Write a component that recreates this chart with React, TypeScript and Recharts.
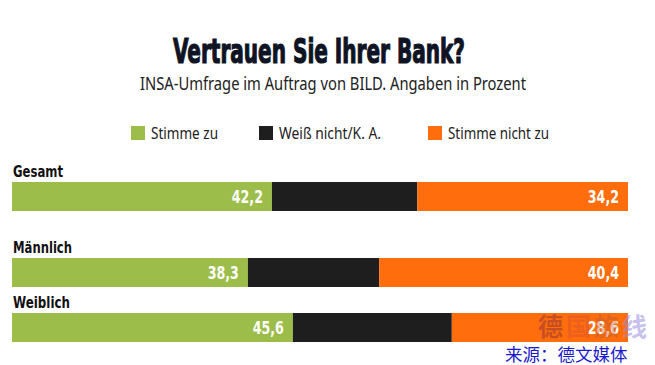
import React from 'react';
import { BarChart, Bar, XAxis, YAxis, LabelList } from 'recharts';

const categories = ['Gesamt', 'Männlich', 'Weiblich'];
const stimmeZu = [42.2, 38.3, 45.6];
const weissNicht = [23.6, 21.3, 25.8];
const stimmeNichtZu = [34.2, 40.4, 28.6];
const seriesNames = ['Stimme zu', 'Weiß nicht/K. A.', 'Stimme nicht zu'];
const seriesKeys = ['zu', 'weiss', 'nicht'];

const COLORS = ['#9cbd4a', '#1e1e1e', '#ff6d0d'];
const ROW_TOPS = [182, 258, 313];
const LABEL_W = [50, 59, 57];
const LEGEND_X = [131, 259, 428];
const LEGEND_W = [67, 102, 101];
const COND = "'DejaVu Sans Condensed', 'DejaVu Sans', sans-serif";
const SANS = "'Noto Sans', 'Open Sans', sans-serif";

const rows = categories.map((name, i) => ({
  name,
  zu: stimmeZu[i],
  weiss: weissNicht[i],
  nicht: stimmeNichtZu[i],
}));

const fmt = (v: any) => String(v).replace('.', ',');

const ValueLabel = (props: any) => {
  const { x, y, width, height, value } = props;
  const s = fmt(value);
  return (
    <text
      x={Number(x) + Number(width) - 9}
      y={Number(y) + Number(height) / 2 + 6.5}
      textAnchor="end"
      textLength={s.length * 7.8}
      lengthAdjust="spacingAndGlyphs"
      style={{ fontFamily: COND, fontWeight: 700, fontSize: 17, fill: '#ffffff' }}
    >
      {s}
    </text>
  );
};

function Row({ row, top }: { row: any; top: number }) {
  return (
    <div style={{ position: 'absolute', left: 12, top }}>
      <BarChart
        width={616}
        height={29}
        data={[row]}
        layout="vertical"
        margin={{ top: 0, right: 0, bottom: 0, left: 0 }}
        barCategoryGap={0}
      >
        <XAxis type="number" domain={[0, 100]} hide />
        <YAxis type="category" dataKey="name" hide />
        {seriesKeys.map((k, i) => (
          <Bar key={k} dataKey={k} stackId="a" fill={COLORS[i]} isAnimationActive={false}>
            {i !== 1 && <LabelList dataKey={k} content={ValueLabel} />}
          </Bar>
        ))}
      </BarChart>
    </div>
  );
}

const WM_CHARS = ['德', '国', '旅', '线'];
const WM_COLORS = ['rgba(160,60,50,0.6)', 'rgba(200,70,60,0.35)', 'rgba(170,90,60,0.4)', 'rgba(150,140,220,0.55)'];

export default function App() {
  return (
    <div
      style={{
        position: 'absolute',
        left: 0,
        top: 0,
        width: 655,
        height: 365,
        background: '#ffffff',
        overflow: 'hidden',
      }}
    >
      <svg width={655} height={365} style={{ position: 'absolute', left: 0, top: 0 }}>
        <text
          x={173}
          y={63}
          textLength={292}
          lengthAdjust="spacingAndGlyphs"
          style={{
            fontFamily: COND,
            fontWeight: 700,
            fontSize: 34,
            fill: '#0f1424',
            stroke: '#0f1424',
            strokeWidth: 1.2,
          }}
        >
          Vertrauen Sie Ihrer Bank?
        </text>
        <text
          x={140}
          y={90}
          textLength={386}
          lengthAdjust="spacingAndGlyphs"
          style={{ fontFamily: SANS, fontSize: 17.5, fill: '#222222' }}
        >
          INSA-Umfrage im Auftrag von BILD. Angaben in Prozent
        </text>
        {seriesNames.map((s, i) => (
          <g key={s}>
            <rect x={LEGEND_X[i]} y={126} width={14} height={14} fill={COLORS[i]} />
            <text
              x={LEGEND_X[i] + 20}
              y={139}
              textLength={LEGEND_W[i]}
              lengthAdjust="spacingAndGlyphs"
              style={{ fontFamily: SANS, fontSize: 16.5, fill: '#222222' }}
            >
              {s}
            </text>
          </g>
        ))}
        {categories.map((c, i) => (
          <text
            key={c}
            x={13}
            y={ROW_TOPS[i] - 5}
            textLength={LABEL_W[i]}
            lengthAdjust="spacingAndGlyphs"
            style={{ fontFamily: COND, fontWeight: 700, fontSize: 16.5, fill: '#111111' }}
          >
            {c}
          </text>
        ))}
      </svg>
      {rows.map((r, i) => (
        <Row key={r.name} row={r} top={ROW_TOPS[i]} />
      ))}
      <svg width={655} height={365} style={{ position: 'absolute', left: 0, top: 0, pointerEvents: 'none' }}>
        {WM_CHARS.map((ch, i) => (
          <text
            key={ch}
            x={538 + i * 28}
            y={336}
            style={{ fontFamily: "'Noto Sans CJK SC', sans-serif", fontWeight: 700, fontSize: 25, fill: WM_COLORS[i] }}
          >
            {ch}
          </text>
        ))}
        <text x={505} y={361} style={{ fontFamily: "'Noto Sans CJK SC', sans-serif", fontSize: 17.5, fill: '#1a1acc' }}>
          来源：德文媒体
        </text>
      </svg>
    </div>
  );
}
